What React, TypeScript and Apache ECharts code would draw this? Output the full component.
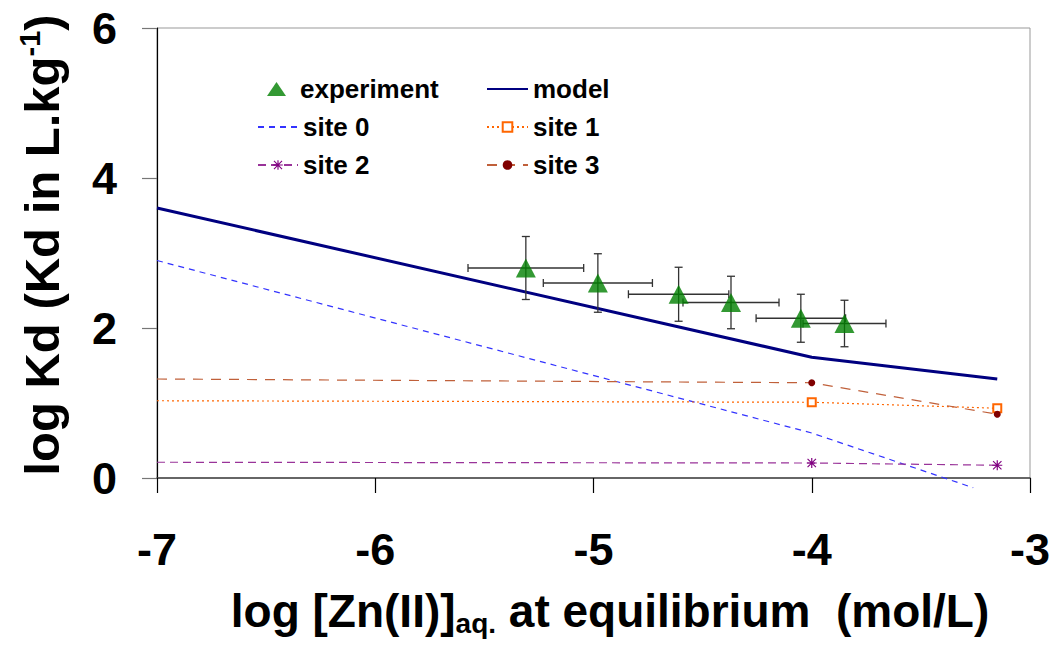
import React, { useEffect, useRef } from "react";
import * as echarts from "echarts";

const xTicks = [-7, -6, -5, -4, -3];
const yTicks = [0, 2, 4, 6];

const expX = [-5.31, -4.98, -4.61, -4.37, -4.05, -3.85];
const expY = [2.8, 2.6, 2.45, 2.34, 2.13, 2.06];
const errX = [0.265, 0.25, 0.23, 0.22, 0.205, 0.19];
const errY = [0.42, 0.39, 0.36, 0.35, 0.32, 0.31];

const modelX = [-7, -4, -3.15];
const modelY = [3.6, 1.61, 1.32];
const site0X = [-7, -4, -3.26];
const site0Y = [2.9, 0.6, -0.13];
const siteX = [-7, -4, -3.15];
const site1Y = [1.03, 1.01, 0.93];
const site2Y = [0.21, 0.2, 0.17];
const site3Y = [1.32, 1.27, 0.85];

const FONT = "'Liberation Sans', Arial, sans-serif";

const asterisk =
  "path://M4.4 0h1.2v10h-1.2z M0 4.4h10v1.2h-10z M1.2 0.4L9.6 8.8L8.8 9.6L0.4 1.2z M8.8 0.4L9.6 1.2L1.2 9.6L0.4 8.8z";

function pts(xs: number[], ys: number[], firstNoSymbol = false) {
  return xs.map((x, i) =>
    firstNoSymbol && i === 0 ? { value: [x, ys[i]], symbol: "none" } : { value: [x, ys[i]] }
  );
}

export default function App() {
  const ref = useRef<HTMLDivElement>(null);
  useEffect(() => {
    if (!ref.current) return;
    const chart = echarts.init(ref.current, undefined, { renderer: "svg" });
    const legendText = {
      fontFamily: FONT,
      fontWeight: "bold" as const,
      fontSize: 26,
      color: "#000",
    };
    const option: any = {
      animation: false,
      backgroundColor: "#fff",
      grid: {
        left: 157,
        right: 33,
        top: 28,
        bottom: 171,
        show: true,
        borderColor: "#999",
        borderWidth: 1,
      },
      legend: [
        {
          data: ["experiment"],
          left: 262,
          top: 71,
          itemWidth: 19,
          itemHeight: 14,
          textStyle: { ...legendText, padding: [0, 0, 0, 9] },
        },
        {
          data: [{ name: "site 0", itemStyle: { opacity: 0 } }, "site 2"],
          orient: "vertical",
          left: 252,
          top: 109,
          itemWidth: 40,
          itemHeight: 12,
          itemGap: 12,
          textStyle: { ...legendText, padding: [0, 0, 0, 0] },
        },
        {
          data: [{ name: "model", itemStyle: { opacity: 0 } }, "site 1", "site 3"],
          orient: "vertical",
          left: 481,
          top: 71,
          itemWidth: 41,
          itemHeight: 12,
          itemGap: 12,
          textStyle: { ...legendText, padding: [0, 0, 0, 0] },
        },
      ],
      xAxis: {
        type: "value",
        min: xTicks[0],
        max: xTicks[xTicks.length - 1],
        interval: 1,
        splitLine: { show: false },
        axisLine: { onZero: true, lineStyle: { color: "#444", width: 1.5 } },
        axisTick: { length: 15, lineStyle: { color: "#000", width: 1.2 } },
        axisLabel: {
          fontFamily: FONT,
          fontWeight: "bold",
          fontSize: 45,
          color: "#000",
          margin: 49,
        },
      },
      yAxis: {
        type: "value",
        min: yTicks[0],
        max: yTicks[yTicks.length - 1],
        interval: 2,
        splitLine: { show: false },
        axisLine: { onZero: false, lineStyle: { color: "#000", width: 1.2 } },
        axisTick: { length: 15, lineStyle: { color: "#777", width: 1.2 } },
        axisLabel: {
          fontFamily: FONT,
          fontWeight: "bold",
          fontSize: 45,
          color: "#000",
          margin: 40,
        },
      },
      graphic: [
        {
          type: "text",
          x: 610,
          y: 611,
          style: {
            text: "{a|log [Zn(II)]}{s|aq.}{a| at equilibrium  (mol/L)}",
            align: "center",
            verticalAlign: "middle",
            rich: {
              a: { fontFamily: FONT, fontWeight: "bold", fontSize: 46, fill: "#000", lineHeight: 52 },
              s: {
                fontFamily: FONT,
                fontWeight: "bold",
                fontSize: 28,
                fill: "#000",
                lineHeight: 28,
                verticalAlign: "bottom",
              },
            },
          },
        },
        {
          type: "text",
          x: 42,
          y: 245,
          rotation: Math.PI / 2,
          style: {
            text: "{a|log Kd (Kd in L.kg}{s|-1}{a|)}",
            align: "center",
            verticalAlign: "middle",
            rich: {
              a: { fontFamily: FONT, fontWeight: "bold", fontSize: 49, fill: "#000", lineHeight: 54 },
              s: {
                fontFamily: FONT,
                fontWeight: "bold",
                fontSize: 29,
                fill: "#000",
                lineHeight: 24,
                verticalAlign: "top",
              },
            },
          },
        },
      ],
      series: [
        {
          name: "site 0",
          type: "line",
          clip: false,
          symbol: "none",
          data: pts(site0X, site0Y),
          lineStyle: { color: "#3333ff", width: 1.2, type: [6, 5] },
          itemStyle: { color: "#3333ff" },
          z: 2,
        },
        {
          name: "site 1",
          type: "line",
          symbol: "emptyRect",
          symbolSize: 8,
          data: pts(siteX, site1Y, true),
          lineStyle: { color: "#ff6600", width: 1.2, type: [2, 3] },
          itemStyle: { color: "#ff6600", borderWidth: 1.2 },
          z: 2,
        },
        {
          name: "site 2",
          type: "line",
          symbol: asterisk,
          symbolSize: 10,
          data: pts(siteX, site2Y, true),
          lineStyle: { color: "#993399", width: 1.2, type: [8, 5] },
          itemStyle: { color: "#800080" },
          z: 2,
        },
        {
          name: "site 3",
          type: "line",
          symbol: "circle",
          symbolSize: 7,
          data: pts(siteX, site3Y, true),
          lineStyle: { color: "#c0603a", width: 1.2, type: [10, 8] },
          itemStyle: { color: "#800000" },
          z: 2,
        },
        {
          name: "model",
          type: "line",
          symbol: "none",
          data: pts(modelX, modelY),
          lineStyle: { color: "#000080", width: 3 },
          itemStyle: { color: "#000080" },
          z: 3,
        },
        {
          name: "errors",
          type: "custom",
          data: expX.map((x, i) => [x, expY[i], errX[i], errY[i]]),
          z: 4,
          renderItem: (params: any, api: any) => {
            const x = api.value(0);
            const y = api.value(1);
            const ex = api.value(2);
            const ey = api.value(3);
            const l = api.coord([x - ex, y]);
            const r = api.coord([x + ex, y]);
            const t = api.coord([x, y + ey]);
            const b = api.coord([x, y - ey]);
            const c = 4;
            const st = { stroke: "#333", lineWidth: 1.3 };
            return {
              type: "group",
              children: [
                { type: "line", shape: { x1: l[0], y1: l[1], x2: r[0], y2: r[1] }, style: st },
                { type: "line", shape: { x1: l[0], y1: l[1] - c, x2: l[0], y2: l[1] + c }, style: st },
                { type: "line", shape: { x1: r[0], y1: r[1] - c, x2: r[0], y2: r[1] + c }, style: st },
                { type: "line", shape: { x1: t[0], y1: t[1], x2: b[0], y2: b[1] }, style: st },
                { type: "line", shape: { x1: t[0] - c, y1: t[1], x2: t[0] + c, y2: t[1] }, style: st },
                { type: "line", shape: { x1: b[0] - c, y1: b[1], x2: b[0] + c, y2: b[1] }, style: st },
              ],
            };
          },
        },
        {
          name: "experiment",
          type: "scatter",
          symbol: "triangle",
          symbolSize: [20, 19],
          data: expX.map((x, i) => [x, expY[i]]),
          itemStyle: { color: "#008000" },
          z: 5,
        },
      ],
    };
    chart.setOption(option);
    return () => chart.dispose();
  }, []);
  return <div ref={ref} style={{ width: 1063, height: 649, margin: -8 }} />;
}
